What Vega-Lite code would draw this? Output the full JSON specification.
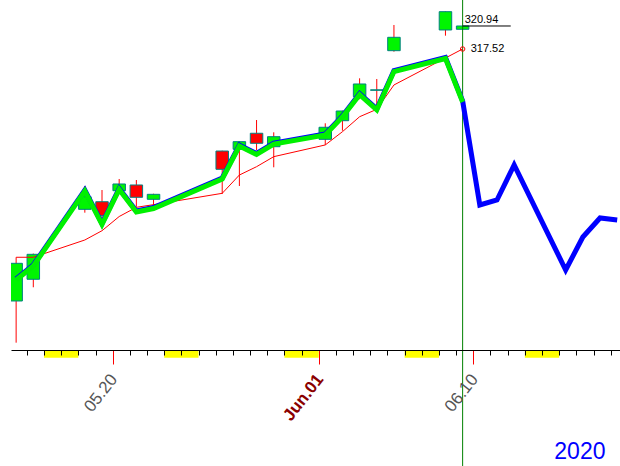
{
  "$schema": "https://vega.github.io/schema/vega-lite/v6.json",
  "width": 609,
  "height": 350,
  "padding": {"left": 11, "top": 0, "right": 0, "bottom": 116},
  "autosize": {"type": "none"},
  "background": "white",
  "config": {"view": {"stroke": null}, "font": "Liberation Sans"},
  "datasets": {
    "candles": [
      {"d": 14, "open": 280.05, "high": 286.55, "low": 273.85, "close": 285.65},
      {"d": 15, "open": 283.28, "high": 287.10, "low": 282.09, "close": 286.99},
      {"d": 18, "open": 293.68, "high": 297.15, "low": 293.18, "close": 295.56},
      {"d": 19, "open": 294.81, "high": 296.55, "low": 292.39, "close": 292.73},
      {"d": 20, "open": 296.45, "high": 298.19, "low": 296.40, "close": 297.45},
      {"d": 21, "open": 297.30, "high": 298.04, "low": 294.07, "close": 295.47},
      {"d": 22, "open": 295.17, "high": 296.00, "low": 294.07, "close": 295.91},
      {"d": 26, "open": 302.35, "high": 302.40, "low": 295.96, "close": 299.63},
      {"d": 27, "open": 302.61, "high": 303.80, "low": 297.15, "close": 303.74},
      {"d": 28, "open": 304.99, "high": 306.96, "low": 302.50, "close": 303.50},
      {"d": 29, "open": 302.99, "high": 305.13, "low": 299.93, "close": 304.48},
      {"d": 32, "open": 304.09, "high": 306.47, "low": 303.25, "close": 305.88},
      {"d": 33, "open": 306.86, "high": 308.35, "low": 305.37, "close": 308.30},
      {"d": 34, "open": 310.43, "high": 313.16, "low": 310.04, "close": 312.32},
      {"d": 35, "open": 311.38, "high": 313.06, "low": 308.94, "close": 311.45},
      {"d": 36, "open": 317.27, "high": 321.09, "low": 317.12, "close": 319.26},
      {"d": 39, "open": 320.35, "high": 323.10, "low": 319.50, "close": 323.07},
      {"d": 40, "open": 320.45, "high": 320.96, "low": 320.43, "close": 320.94}
    ],
    "trend": [
      {"d": 14, "v": 283.32}, {"d": 15, "v": 285.40}, {"d": 18, "v": 296.55}, {"d": 19, "v": 291.57},
      {"d": 20, "v": 296.78}, {"d": 21, "v": 293.43}, {"d": 22, "v": 293.95}, {"d": 26, "v": 298.34},
      {"d": 27, "v": 303.24}, {"d": 28, "v": 301.98}, {"d": 29, "v": 303.54}, {"d": 32, "v": 304.88},
      {"d": 33, "v": 307.56}, {"d": 34, "v": 310.87}, {"d": 35, "v": 308.60}, {"d": 36, "v": 314.32},
      {"d": 39, "v": 316.26}, {"d": 40, "v": 309.79}, {"d": 41, "v": 294.32}, {"d": 42, "v": 295.07},
      {"d": 43, "v": 300.27}, {"d": 46, "v": 284.66}, {"d": 47, "v": 289.56}, {"d": 48, "v": 292.39},
      {"d": 49, "v": 292.09}
    ],
    "ma": [
      {"d": 14, "v": 286.55}, {"d": 15, "v": 286.55}, {"d": 18, "v": 289.12}, {"d": 19, "v": 290.50},
      {"d": 20, "v": 292.61}, {"d": 21, "v": 293.98}, {"d": 22, "v": 294.37}, {"d": 26, "v": 296.06},
      {"d": 27, "v": 298.78}, {"d": 28, "v": 300.02}, {"d": 29, "v": 301.51}, {"d": 32, "v": 303.25},
      {"d": 33, "v": 305.22}, {"d": 34, "v": 307.45}, {"d": 35, "v": 308.55}, {"d": 36, "v": 312.17},
      {"d": 39, "v": 316.18}, {"d": 40, "v": 317.52}
    ],
    "weekends": [
      {"d": 16, "d2": 18}, {"d": 23, "d2": 25}, {"d": 30, "d2": 32}, {"d": 37, "d2": 39}, {"d": 44, "d2": 46}
    ],
    "notes": [
      {"d": 40, "v": 320.94, "label": "320.94", "kind": "last"},
      {"d": 40, "v": 317.52, "label": "317.52", "kind": "ma"}
    ]
  },
  "encoding": {
    "x": {
      "field": "d",
      "type": "quantitative",
      "scale": {"domain": [13.992, 48.872], "nice": false, "zero": false},
      "axis": {
        "values": [15,16,17,18,19,20,21,22,23,24,25,26,27,28,29,30,31,32,33,34,35,36,37,38,39,40,41,42,43,44,45,46,47,48,49],
        "tickOffset": -6.5,
        "domainColor": "#000000",
        "domainWidth": 1,
        "tickWidth": 1,
        "tickColor": {"condition": {"test": "datum.value == 20 || datum.value == 32 || datum.value == 41", "value": "#ff0000"}, "value": "#000000"},
        "tickSize": {"condition": {"test": "datum.value == 20 || datum.value == 32 || datum.value == 41", "value": 14}, "value": 5},
        "labelExpr": "datum.value == 20 ? '05.20' : datum.value == 32 ? 'Jun.01' : datum.value == 41 ? '06.10' : ''",
        "labelAngle": -52,
        "labelAlign": "right",
        "labelBaseline": "middle",
        "labelFont": "Liberation Sans",
        "labelFontSize": 17,
        "labelColor": {"condition": {"test": "datum.value == 32", "value": "#8b0000"}, "value": "#555555"},
        "labelFontWeight": {"condition": {"test": "datum.value == 32", "value": "bold"}, "value": "normal"},
        "labelPadding": 12,
        "labelOffset": 1,
        "labelOverlap": false,
        "labelBound": false,
        "labelFlush": false,
        "grid": false,
        "zindex": 1,
        "title": "2020",
        "titleX": 594,
        "titleY": 108,
        "titleAlign": "right",
        "titleAnchor": null,
        "titleBaseline": "alphabetic",
        "titleAngle": 0,
        "titleColor": "#0000ff",
        "titleFont": "Liberation Sans",
        "titleFontSize": 23,
        "titleFontWeight": "normal"
      }
    }
  },
  "layer": [
    {
      "data": {"name": "weekends"},
      "mark": {"type": "rect", "color": "#ffff00", "xOffset": -6.5, "x2Offset": -6.5},
      "encoding": {
        "x2": {"field": "d2"},
        "y": {"datum": 272.762, "type": "quantitative", "scale": {"domain": [272.762, 324.806], "nice": false, "zero": false}, "axis": null},
        "y2": {"datum": 271.617}
      }
    },
    {
      "data": {"name": "candles"},
      "mark": {"type": "rule", "color": "#ff0000", "strokeWidth": 1, "clip": true},
      "encoding": {
        "y": {"field": "low", "type": "quantitative", "scale": {"domain": [272.762, 324.806], "nice": false, "zero": false}, "axis": null},
        "y2": {"field": "high"}
      }
    },
    {
      "data": {"name": "candles"},
      "mark": {"type": "bar", "size": 12.5, "stroke": "#008080", "strokeWidth": 1, "clip": true},
      "encoding": {
        "y": {"field": "open", "type": "quantitative", "scale": {"domain": [272.762, 324.806], "nice": false, "zero": false}, "axis": null},
        "y2": {"field": "close"},
        "color": {"condition": {"test": "datum.close >= datum.open", "value": "#00f500"}, "value": "#ff0000"}
      }
    },
    {
      "data": {"name": "notes"},
      "transform": [{"filter": "datum.kind == 'last'"}],
      "mark": {"type": "rule", "color": "#008000", "strokeWidth": 1},
      "encoding": {
        "y": {"datum": 324.806, "type": "quantitative", "scale": {"domain": [272.762, 324.806], "nice": false, "zero": false}, "axis": null},
        "y2": {"datum": 255.51}
      }
    },
    {
      "data": {"name": "ma"},
      "mark": {"type": "line", "color": "#ff0000", "strokeWidth": 1, "clip": true},
      "encoding": {
        "y": {"field": "v", "type": "quantitative", "scale": {"domain": [272.762, 324.806], "nice": false, "zero": false}, "axis": null}
      }
    },
    {
      "data": {"name": "trend"},
      "mark": {"type": "line", "color": "#0000ff", "strokeWidth": 5, "clip": true},
      "encoding": {
        "y": {"field": "v", "type": "quantitative", "scale": {"domain": [272.762, 324.806], "nice": false, "zero": false}, "axis": null}
      }
    },
    {
      "data": {"name": "trend"},
      "transform": [{"filter": "datum.d <= 40"}],
      "mark": {"type": "line", "color": "#00f000", "strokeWidth": 5, "yOffset": 1, "clip": true},
      "encoding": {
        "y": {"field": "v", "type": "quantitative", "scale": {"domain": [272.762, 324.806], "nice": false, "zero": false}, "axis": null}
      }
    },
    {
      "data": {"name": "notes"},
      "transform": [{"filter": "datum.kind == 'last'"}],
      "mark": {"type": "rule", "color": "#000000", "strokeWidth": 1},
      "encoding": {
        "x2": {"datum": 42.8},
        "y": {"field": "v", "type": "quantitative", "scale": {"domain": [272.762, 324.806], "nice": false, "zero": false}, "axis": null}
      }
    },
    {
      "data": {"name": "notes"},
      "transform": [{"filter": "datum.kind == 'last'"}],
      "mark": {"type": "text", "align": "left", "baseline": "alphabetic", "dx": 2, "dy": -3, "fontSize": 11, "font": "Liberation Sans", "color": "#000000"},
      "encoding": {
        "y": {"field": "v", "type": "quantitative", "scale": {"domain": [272.762, 324.806], "nice": false, "zero": false}, "axis": null},
        "text": {"field": "label"}
      }
    },
    {
      "data": {"name": "notes"},
      "transform": [{"filter": "datum.kind == 'ma'"}],
      "mark": {"type": "point", "shape": "circle", "filled": false, "stroke": "#ff0000", "strokeWidth": 1, "size": 20, "opacity": 1},
      "encoding": {
        "y": {"field": "v", "type": "quantitative", "scale": {"domain": [272.762, 324.806], "nice": false, "zero": false}, "axis": null}
      }
    },
    {
      "data": {"name": "notes"},
      "transform": [{"filter": "datum.kind == 'ma'"}],
      "mark": {"type": "text", "align": "left", "baseline": "middle", "dx": 8, "fontSize": 11, "font": "Liberation Sans", "color": "#000000"},
      "encoding": {
        "y": {"field": "v", "type": "quantitative", "scale": {"domain": [272.762, 324.806], "nice": false, "zero": false}, "axis": null},
        "text": {"field": "label"}
      }
    }
  ]
}
